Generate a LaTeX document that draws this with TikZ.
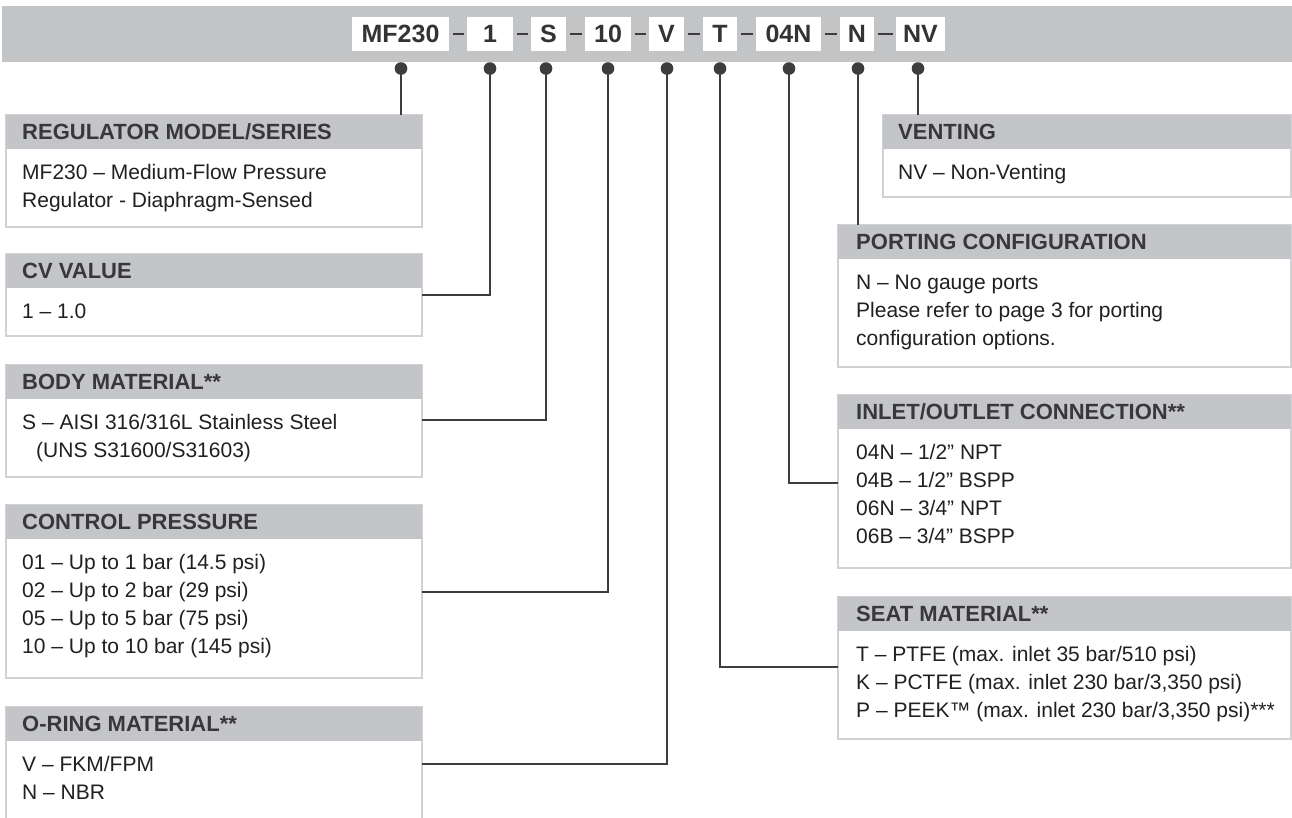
\documentclass[tikz,border=0pt]{standalone}
\usepackage{fontspec}
\setmainfont{Liberation Sans}
\definecolor{barg}{HTML}{C3C4C6}
\definecolor{hdrg}{HTML}{C4C5C8}
\definecolor{hdrtext}{HTML}{38383A}
\definecolor{bodytext}{HTML}{231F20}
\definecolor{bordg}{HTML}{D1D2D4}
\definecolor{lined}{HTML}{3D3D3F}
\definecolor{codetext}{HTML}{333333}
\begin{document}
\begin{tikzpicture}[x=1pt,y=-1pt,
  codebox/.style={fill=white, inner sep=0, outer sep=0, minimum height=34,
    font=\fontsize{25}{30}\selectfont\bfseries, text=codetext},
  hdrbox/.style={fill=hdrg, inner sep=0, outer sep=0, minimum height=34, anchor=north west},
  boxframe/.style={draw=bordg, line width=1.5, fill=white, inner sep=0, outer sep=0, anchor=north west},
  htext/.style={anchor=base west, inner sep=0, font=\fontsize{22}{26}\selectfont\bfseries, text=hdrtext},
  btext/.style={anchor=base west, inner sep=0, font=\fontsize{21}{27}\selectfont, text=bodytext},
  dotnode/.style={circle, fill=lined, inner sep=0, minimum size=12.6},
  conn/.style={draw=lined, line width=1.4},
  dashline/.style={draw=lined, line width=2.6, shorten >=3.5, shorten <=3.5}
]
\clip (0,0) rectangle (1292,817);
\fill[white] (0,0) rectangle (1292,817);
% top bar
\node[fill=barg, inner sep=0, outer sep=0, minimum width=1290, minimum height=56, anchor=north west] (bar) at (2,6) {};
% code boxes
\node[codebox, minimum width=97] (cMF) at (400.5,34) {MF230};
\node[codebox, minimum width=46] (cOne) at (490,34) {1};
\node[codebox, minimum width=35] (cS) at (548.5,34) {S};
\node[codebox, minimum width=46] (cTen) at (608,34) {10};
\node[codebox, minimum width=35] (cV) at (666.5,34) {V};
\node[codebox, minimum width=34] (cT) at (720,34) {T};
\node[codebox, minimum width=65] (cIn) at (788.5,34) {04N};
\node[codebox, minimum width=34] (cN) at (857,34) {N};
\node[codebox, minimum width=49] (cNV) at (920.5,34) {NV};
\draw[dashline] (cMF.east) -- (cOne.west);
\draw[dashline] (cOne.east) -- (cS.west);
\draw[dashline] (cS.east) -- (cTen.west);
\draw[dashline] (cTen.east) -- (cV.west);
\draw[dashline] (cV.east) -- (cT.west);
\draw[dashline] (cT.east) -- (cIn.west);
\draw[dashline] (cIn.east) -- (cN.west);
\draw[dashline] (cN.east) -- (cNV.west);
% dots
\node[dotnode] (dMF) at (401,68.5) {};
\node[dotnode] (dOne) at (490,68.5) {};
\node[dotnode] (dS) at (546,68.5) {};
\node[dotnode] (dTen) at (608,68.5) {};
\node[dotnode] (dV) at (667,68.5) {};
\node[dotnode] (dT) at (720,68.5) {};
\node[dotnode] (dIn) at (789,68.5) {};
\node[dotnode] (dN) at (858,68.5) {};
\node[dotnode] (dNV) at (918,68.5) {};
% ---------- left boxes ----------
\node[boxframe, minimum width=416, minimum height=112] (bReg) at (6,115) {};
\node[hdrbox, minimum width=416] (hReg) at (6,115) {};
\node[htext] (tReg) at (22,139) {REGULATOR MODEL/SERIES};
\node[btext] (tReg1) at (22,179) {MF230 – Medium-Flow Pressure};
\node[btext] (tReg2) at (22,207) {Regulator - Diaphragm-Sensed};

\node[boxframe, minimum width=416, minimum height=82] (bCv) at (6,254) {};
\node[hdrbox, minimum width=416] (hCv) at (6,254) {};
\node[htext] (tCv) at (22,278) {CV VALUE};
\node[btext] (tCv1) at (22,318) {1 – 1.0};

\node[boxframe, minimum width=416, minimum height=112] (bBody) at (6,365) {};
\node[hdrbox, minimum width=416] (hBody) at (6,365) {};
\node[htext] (tBody) at (22,389) {BODY MATERIAL**};
\node[btext] (tBody1) at (22,429) {S – AISI 316/316L Stainless Steel};
\node[btext] (tBody2) at (36,457) {(UNS S31600/S31603)};

\node[boxframe, minimum width=416, minimum height=173] (bCtl) at (6,505) {};
\node[hdrbox, minimum width=416] (hCtl) at (6,505) {};
\node[htext] (tCtl) at (22,529) {CONTROL PRESSURE};
\node[btext] (tCtl1) at (22,569) {01 – Up to 1 bar (14.5 psi)};
\node[btext] (tCtl2) at (22,597) {02 – Up to 2 bar (29 psi)};
\node[btext] (tCtl3) at (22,625) {05 – Up to 5 bar (75 psi)};
\node[btext] (tCtl4) at (22,653) {10 – Up to 10 bar (145 psi)};

\node[boxframe, minimum width=416, minimum height=140] (bOr) at (6,707) {};
\node[hdrbox, minimum width=416] (hOr) at (6,707) {};
\node[htext] (tOr) at (22,731) {O-RING MATERIAL**};
\node[btext] (tOr1) at (22,771) {V – FKM/FPM};
\node[btext] (tOr2) at (22,799) {N – NBR};
% ---------- right boxes ----------
\node[boxframe, minimum width=408, minimum height=82] (bVent) at (883,115) {};
\node[hdrbox, minimum width=408] (hVent) at (883,115) {};
\node[htext] (tVent) at (898,139) {VENTING};
\node[btext] (tVent1) at (898,179) {NV – Non-Venting};

\node[boxframe, minimum width=453, minimum height=142] (bPort) at (838,225) {};
\node[hdrbox, minimum width=453] (hPort) at (838,225) {};
\node[htext] (tPort) at (856,249) {PORTING CONFIGURATION};
\node[btext] (tPort1) at (856,289) {N – No gauge ports};
\node[btext] (tPort2) at (856,317) {Please refer to page 3 for porting};
\node[btext] (tPort3) at (856,345) {configuration options.};

\node[boxframe, minimum width=453, minimum height=173] (bIn) at (838,395) {};
\node[hdrbox, minimum width=453] (hIn) at (838,395) {};
\node[htext] (tIn) at (856,419) {INLET/OUTLET CONNECTION**};
\node[btext] (tIn1) at (856,459) {04N – 1/2” NPT};
\node[btext] (tIn2) at (856,487) {04B – 1/2” BSPP};
\node[btext] (tIn3) at (856,515) {06N – 3/4” NPT};
\node[btext] (tIn4) at (856,543) {06B – 3/4” BSPP};

\node[boxframe, minimum width=453, minimum height=142] (bSeat) at (838,597) {};
\node[hdrbox, minimum width=453] (hSeat) at (838,597) {};
\node[htext] (tSeat) at (856,621) {SEAT MATERIAL**};
\node[btext] (tSeat1) at (856,661) {T – PTFE (max. inlet 35 bar/510 psi)};
\node[btext] (tSeat2) at (856,689) {K – PCTFE (max. inlet 230 bar/3,350 psi)};
\node[btext] (tSeat3) at (856,717) {P – PEEK™ (max. inlet 230 bar/3,350 psi)***};
% ---------- connector ends ----------
\coordinate (eMF) at (401,115);
\coordinate (eOne) at (422,295);
\coordinate (eS) at (422,420);
\coordinate (eTen) at (422,592);
\coordinate (eV) at (422,764);
\coordinate (eT) at (838,667);
\coordinate (eIn) at (838,483);
\coordinate (eN) at (858,225);
\coordinate (eNV) at (918,115);
\draw[conn] (dMF.center) -- (eMF);
\draw[conn] (dOne.center) |- (eOne);
\draw[conn] (dS.center) |- (eS);
\draw[conn] (dTen.center) |- (eTen);
\draw[conn] (dV.center) |- (eV);
\draw[conn] (dT.center) |- (eT);
\draw[conn] (dIn.center) |- (eIn);
\draw[conn] (dN.center) -- (eN);
\draw[conn] (dNV.center) -- (eNV);
\end{tikzpicture}
\end{document}
